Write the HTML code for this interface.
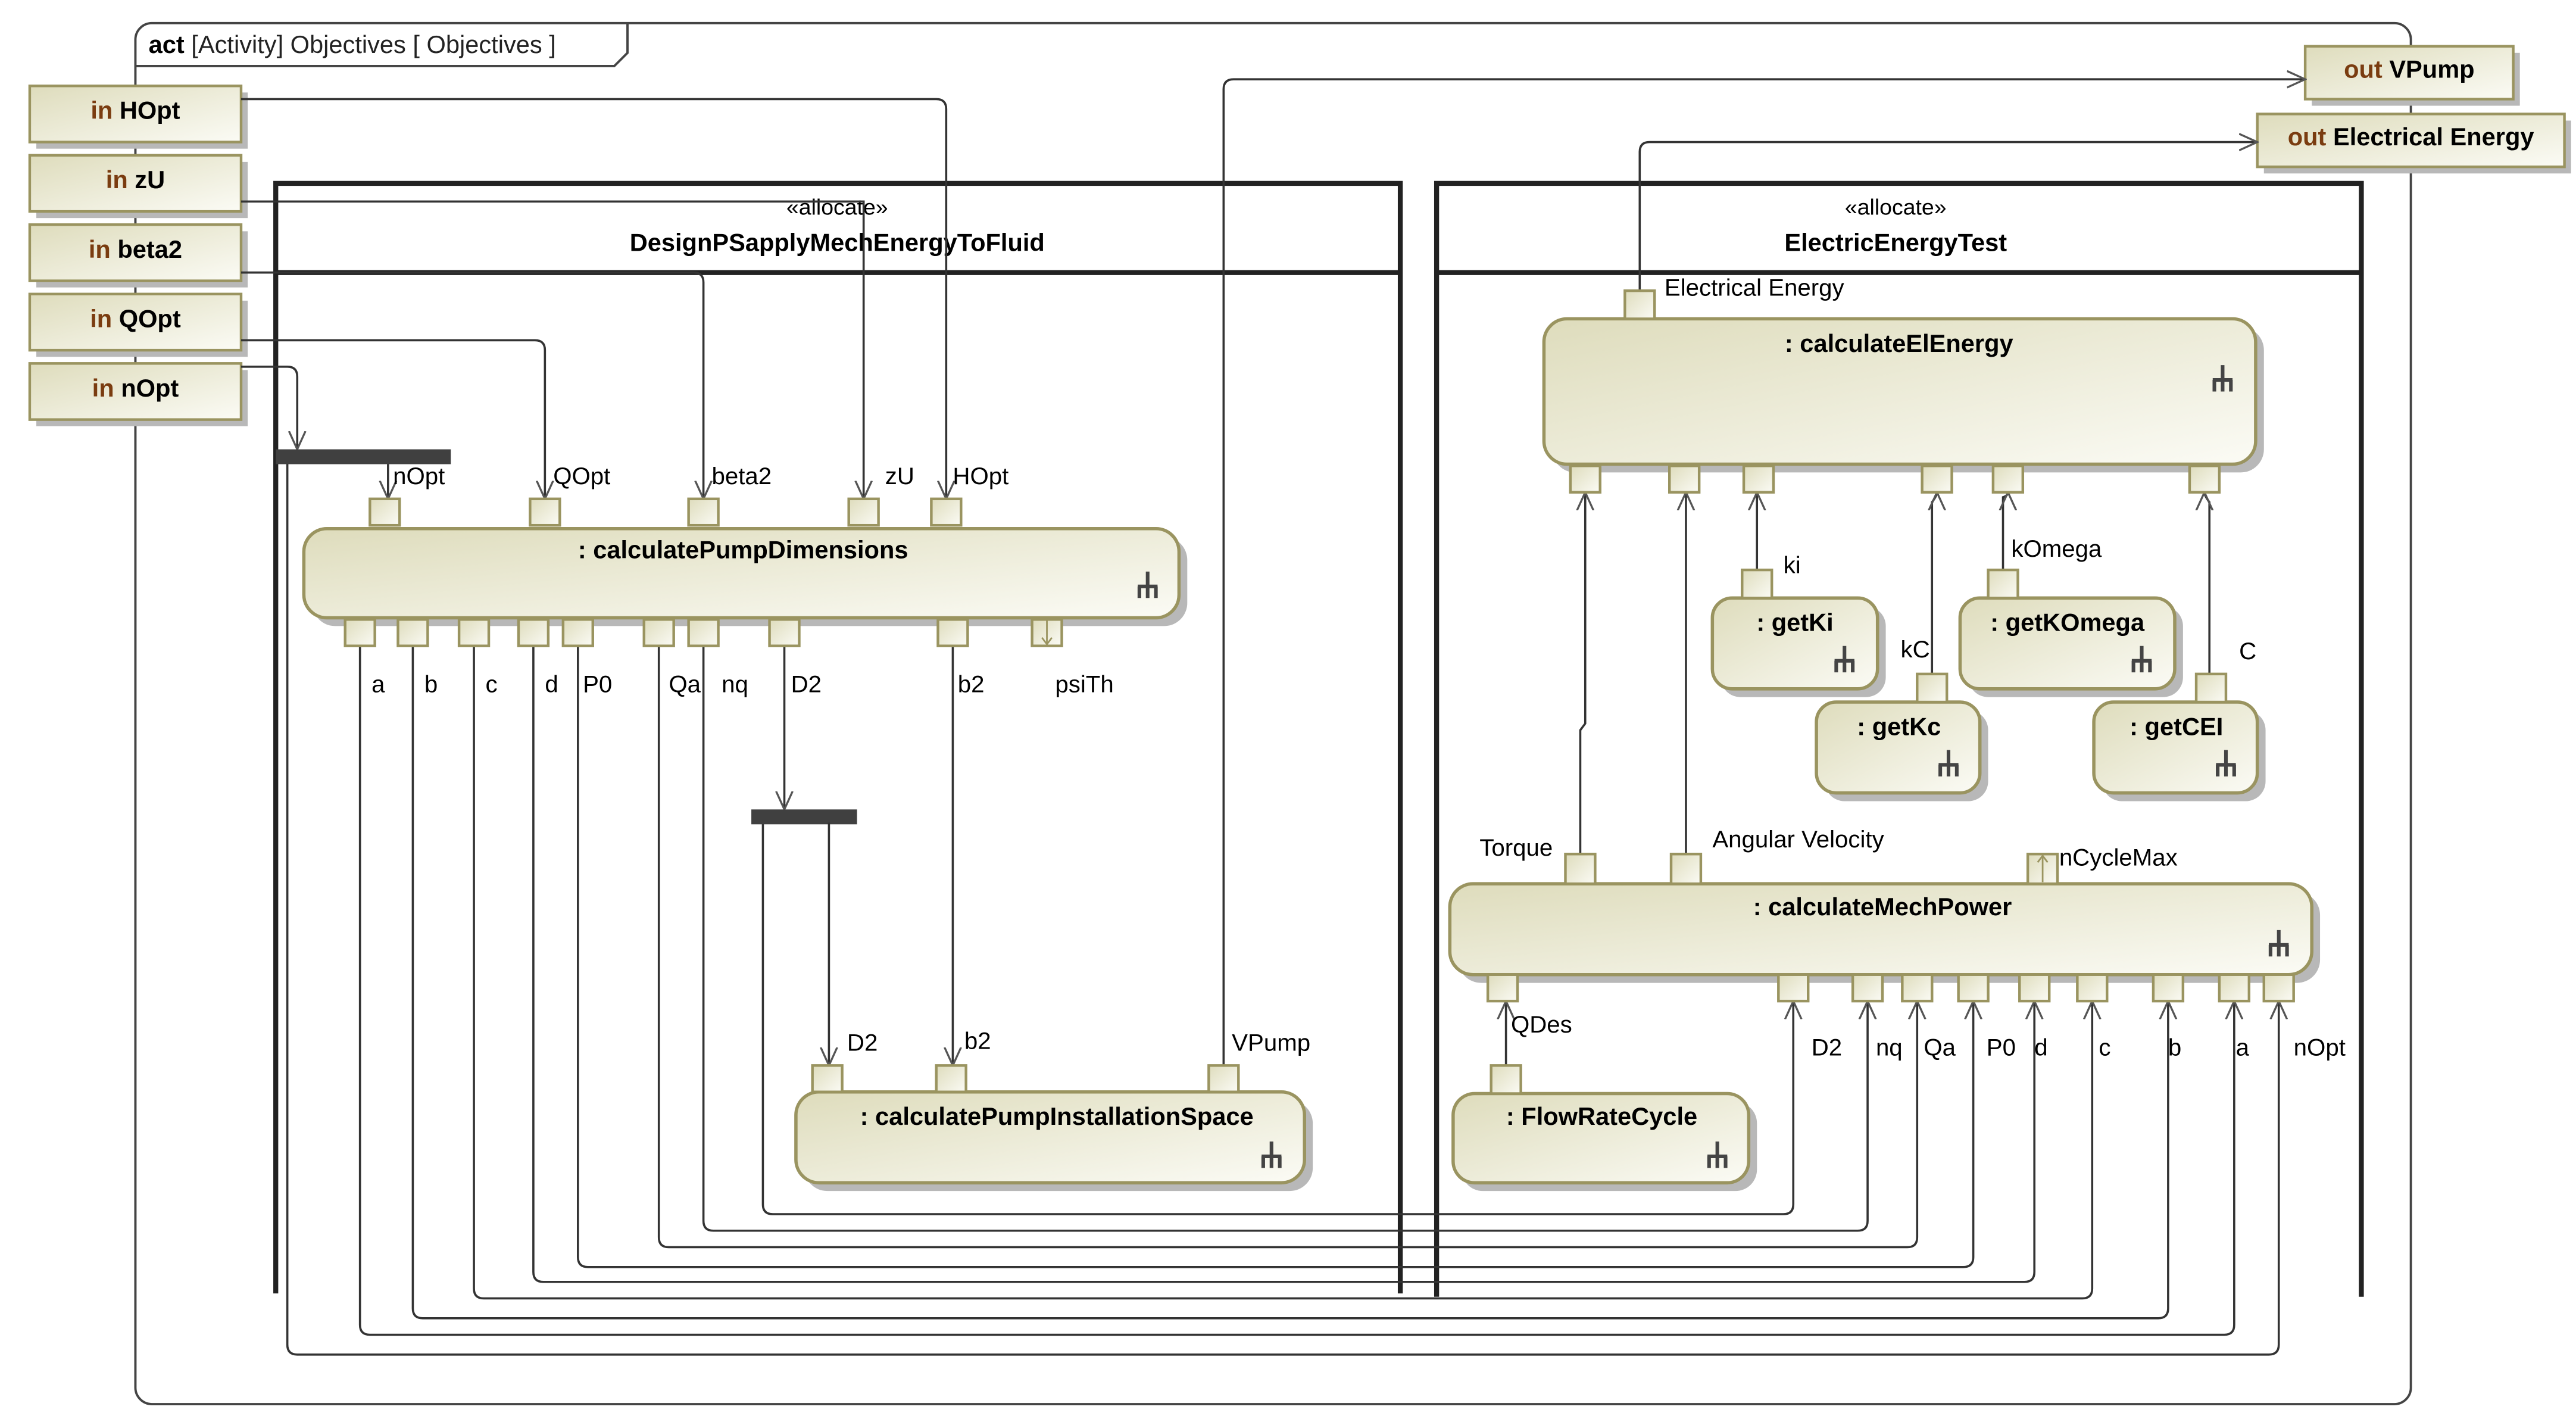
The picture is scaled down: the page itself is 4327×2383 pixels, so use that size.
<!DOCTYPE html>
<html><head><meta charset="utf-8"><style>
html,body{margin:0;padding:0;background:#fff;}
svg{display:block;}
text{font-family:"Liberation Sans",Arial,sans-serif;fill:#000;}
.t{font-weight:bold;font-size:15px;}
.l{font-size:14.5px;}
.ln{fill:none;stroke:#333;stroke-width:1.3;}
.pin{fill:url(#g);stroke:#9a9460;stroke-width:1.6;}
.act{fill:url(#g);stroke:#9a9460;stroke-width:2;}
.sh{fill:#b8b8b8;}
.kw{fill:#7a3c10;}
</style></head><body>
<svg width="4327" height="2383" viewBox="0 0 1560 859" preserveAspectRatio="none" xmlns="http://www.w3.org/2000/svg">
<defs>
<linearGradient id="g" x1="0" y1="0" x2="1" y2="1">
<stop offset="0" stop-color="#dedcbc"/><stop offset="1" stop-color="#fbfbf5"/></linearGradient>
<marker id="a" markerWidth="12" markerHeight="12" refX="11" refY="6" orient="auto" markerUnits="userSpaceOnUse">
<path d="M0,1 L11,6 L0,11" fill="none" stroke="#555" stroke-width="1.2"/></marker>
<g id="rake"><path d="M0,-9 V6 M-6,0 H6 M-5,0 V7 M0,0 V7 M5,0 V7" stroke="#444" stroke-width="2.2" fill="none"/></g>
</defs>

<rect x="82" y="14" width="1378" height="836" rx="10" fill="none" stroke="#444" stroke-width="1.4"/>
<path d="M82,40 H372 L380,32 V14" fill="none" stroke="#444" stroke-width="1.4"/>
<text x="90" y="32" style="font-size:15px"><tspan font-weight="bold">act</tspan> <tspan fill="#222">[Activity] Objectives [ Objectives ]</tspan></text>

<path d="M167,783 V111 H848 V783 M167,165 H848" fill="none" stroke="#222" stroke-width="3"/>
<text x="507" y="130" text-anchor="middle" class="l" style="font-size:13.5px">«allocate»</text>
<text x="507" y="152" text-anchor="middle" class="t">DesignPSapplyMechEnergyToFluid</text>
<path d="M870,785 V111 H1430 V785 M870,165 H1430" fill="none" stroke="#222" stroke-width="3"/>
<text x="1148" y="130" text-anchor="middle" class="l" style="font-size:13.5px">«allocate»</text>
<text x="1148" y="152" text-anchor="middle" class="t">ElectricEnergyTest</text>

<g>
<rect class="sh" x="22" y="56" width="128" height="34"/><rect class="pin" x="18" y="52" width="128" height="34"/>
<text x="82" y="72" text-anchor="middle" class="t"><tspan class="kw">in</tspan> HOpt</text>
<rect class="sh" x="22" y="98" width="128" height="34"/><rect class="pin" x="18" y="94" width="128" height="34"/>
<text x="82" y="114" text-anchor="middle" class="t"><tspan class="kw">in</tspan> zU</text>
<rect class="sh" x="22" y="140" width="128" height="34"/><rect class="pin" x="18" y="136" width="128" height="34"/>
<text x="82" y="156" text-anchor="middle" class="t"><tspan class="kw">in</tspan> beta2</text>
<rect class="sh" x="22" y="182" width="128" height="34"/><rect class="pin" x="18" y="178" width="128" height="34"/>
<text x="82" y="198" text-anchor="middle" class="t"><tspan class="kw">in</tspan> QOpt</text>
<rect class="sh" x="22" y="224" width="128" height="34"/><rect class="pin" x="18" y="220" width="128" height="34"/>
<text x="82" y="240" text-anchor="middle" class="t"><tspan class="kw">in</tspan> nOpt</text>
<rect class="sh" x="1400" y="32" width="126" height="32"/><rect class="pin" x="1396" y="28" width="126" height="32"/>
<text x="1459" y="47" text-anchor="middle" class="t"><tspan class="kw">out</tspan> VPump</text>
<rect class="sh" x="1371" y="73" width="186" height="32"/><rect class="pin" x="1367" y="69" width="186" height="32"/>
<text x="1460" y="88" text-anchor="middle" class="t"><tspan class="kw">out</tspan> Electrical Energy</text>
</g>

<path class="ln" d="M146,60 H567 Q573,60 573,66 V302" marker-end="url(#a)"/>
<path class="ln" d="M146,122 H523 V302" marker-end="url(#a)"/>
<path class="ln" d="M146,165 H420 Q426,165 426,171 V302" marker-end="url(#a)"/>
<path class="ln" d="M146,206 H324 Q330,206 330,212 V302" marker-end="url(#a)"/>
<path class="ln" d="M146,222 H174 Q180,222 180,228 V272" marker-end="url(#a)"/>
<rect x="167" y="272" width="106" height="9" fill="#404040"/>
<path class="ln" d="M235,281 V302" marker-end="url(#a)"/>
<path class="ln" d="M741,645 V54 Q741,48 747,48 H1396" marker-end="url(#a)"/>
<path class="ln" d="M993,176 V92 Q993,86 999,86 H1367" marker-end="url(#a)"/>

<path class="ln" d="M174,281 V814 Q174,820 180,820 H1374 Q1380,820 1380,814 V606" marker-end="url(#a)"/>
<path class="ln" d="M218,390 V802 Q218,808 224,808 H1347 Q1353,808 1353,802 V606" marker-end="url(#a)"/>
<path class="ln" d="M250,390 V792 Q250,798 256,798 H1307 Q1313,798 1313,792 V606" marker-end="url(#a)"/>
<path class="ln" d="M287,390 V780 Q287,786 293,786 H1261 Q1267,786 1267,780 V606" marker-end="url(#a)"/>
<path class="ln" d="M323,390 V770 Q323,776 329,776 H1226 Q1232,776 1232,770 V606" marker-end="url(#a)"/>
<path class="ln" d="M350,390 V761 Q350,767 356,767 H1189 Q1195,767 1195,761 V606" marker-end="url(#a)"/>
<path class="ln" d="M399,390 V749 Q399,755 405,755 H1155 Q1161,755 1161,749 V606" marker-end="url(#a)"/>
<path class="ln" d="M426,390 V739 Q426,745 432,745 H1125 Q1131,745 1131,739 V606" marker-end="url(#a)"/>
<path class="ln" d="M462,498 V729 Q462,735 468,735 H1080 Q1086,735 1086,729 V606" marker-end="url(#a)"/>
<path class="ln" d="M475,390 V490" marker-end="url(#a)"/>
<rect x="455" y="490" width="64" height="9" fill="#404040"/>
<path class="ln" d="M502,498 V645" marker-end="url(#a)"/>
<path class="ln" d="M577,390 V645" marker-end="url(#a)"/>

<path class="ln" d="M957,517 V442 L960,438 V298" marker-end="url(#a)"/>
<path class="ln" d="M1021,517 V298" marker-end="url(#a)"/>
<path class="ln" d="M1064,345 V298" marker-end="url(#a)"/>
<path class="ln" d="M1213,345 V301 Q1216,300 1216,298" marker-end="url(#a)"/>
<path class="ln" d="M1170,408 V304 Q1173,300 1173,298" marker-end="url(#a)"/>
<path class="ln" d="M1338,408 V304 Q1335,300 1335,298" marker-end="url(#a)"/>
<path class="ln" d="M912,645 V606" marker-end="url(#a)"/>

<rect class="sh" x="189" y="325" width="530" height="54" rx="14"/>
<rect class="act" x="184" y="320" width="530" height="54" rx="14"/>
<text x="450" y="338" text-anchor="middle" class="t">: calculatePumpDimensions</text>
<use href="#rake" x="695" y="355"/>
<g class="pin">
<rect x="224" y="302" width="18" height="16"/><rect x="321" y="302" width="18" height="16"/><rect x="417" y="302" width="18" height="16"/><rect x="514" y="302" width="18" height="16"/><rect x="564" y="302" width="18" height="16"/>
<rect x="209" y="375" width="18" height="16"/><rect x="241" y="375" width="18" height="16"/><rect x="278" y="375" width="18" height="16"/><rect x="314" y="375" width="18" height="16"/><rect x="341" y="375" width="18" height="16"/><rect x="390" y="375" width="18" height="16"/><rect x="417" y="375" width="18" height="16"/><rect x="466" y="375" width="18" height="16"/><rect x="568" y="375" width="18" height="16"/><rect x="625" y="375" width="18" height="16"/>
</g>
<path d="M634,375 V390 M631,386 L634,390 L637,386" stroke="#9a9460" fill="none"/>
<g class="l">
<text x="238" y="293">nOpt</text><text x="335" y="293">QOpt</text><text x="431" y="293">beta2</text><text x="536" y="293">zU</text><text x="577" y="293">HOpt</text>
<text x="225" y="419">a</text><text x="257" y="419">b</text><text x="294" y="419">c</text><text x="330" y="419">d</text><text x="353" y="419">P0</text><text x="405" y="419">Qa</text><text x="437" y="419">nq</text><text x="479" y="419">D2</text><text x="580" y="419">b2</text><text x="639" y="419">psiTh</text>
</g>

<rect class="sh" x="487" y="666" width="308" height="55" rx="14"/>
<rect class="act" x="482" y="661" width="308" height="55" rx="14"/>
<text x="640" y="681" text-anchor="middle" class="t">: calculatePumpInstallationSpace</text>
<use href="#rake" x="770" y="700"/>
<g class="pin"><rect x="492" y="645" width="18" height="16"/><rect x="567" y="645" width="18" height="16"/><rect x="732" y="645" width="18" height="16"/></g>
<g class="l"><text x="513" y="636">D2</text><text x="584" y="635">b2</text><text x="746" y="636">VPump</text></g>

<rect class="sh" x="940" y="198" width="431" height="88" rx="14"/>
<rect class="act" x="935" y="193" width="431" height="88" rx="14"/>
<text x="1150" y="213" text-anchor="middle" class="t">: calculateElEnergy</text>
<use href="#rake" x="1346" y="230"/>
<g class="pin"><rect x="984" y="176" width="18" height="17"/>
<rect x="951" y="282" width="18" height="16"/><rect x="1011" y="282" width="18" height="16"/><rect x="1056" y="282" width="18" height="16"/><rect x="1164" y="282" width="18" height="16"/><rect x="1207" y="282" width="18" height="16"/><rect x="1326" y="282" width="18" height="16"/></g>
<text x="1008" y="179" class="l">Electrical Energy</text>

<rect class="sh" x="1042" y="367" width="100" height="55" rx="12"/><rect class="act" x="1037" y="362" width="100" height="55" rx="12"/>
<text x="1087" y="382" text-anchor="middle" class="t">: getKi</text><use href="#rake" x="1117" y="400"/>
<rect class="pin" x="1055" y="345" width="18" height="17"/><text x="1080" y="347" class="l">ki</text>

<rect class="sh" x="1192" y="367" width="130" height="55" rx="12"/><rect class="act" x="1187" y="362" width="130" height="55" rx="12"/>
<text x="1252" y="382" text-anchor="middle" class="t">: getKOmega</text><use href="#rake" x="1297" y="400"/>
<rect class="pin" x="1204" y="345" width="18" height="17"/><text x="1218" y="337" class="l">kOmega</text>

<rect class="sh" x="1105" y="430" width="99" height="55" rx="12"/><rect class="act" x="1100" y="425" width="99" height="55" rx="12"/>
<text x="1150" y="445" text-anchor="middle" class="t">: getKc</text><use href="#rake" x="1180" y="463"/>
<rect class="pin" x="1161" y="408" width="18" height="17"/><text x="1151" y="398" class="l">kC</text>

<rect class="sh" x="1273" y="430" width="99" height="55" rx="12"/><rect class="act" x="1268" y="425" width="99" height="55" rx="12"/>
<text x="1318" y="445" text-anchor="middle" class="t">: getCEI</text><use href="#rake" x="1348" y="463"/>
<rect class="pin" x="1330" y="408" width="18" height="17"/><text x="1356" y="399" class="l">C</text>

<rect class="sh" x="883" y="540" width="522" height="55" rx="14"/>
<rect class="act" x="878" y="535" width="522" height="55" rx="14"/>
<text x="1140" y="554" text-anchor="middle" class="t">: calculateMechPower</text>
<use href="#rake" x="1380" y="572"/>
<g class="pin"><rect x="948" y="517" width="18" height="18"/><rect x="1012" y="517" width="18" height="18"/><rect x="1228" y="517" width="18" height="18"/>
<rect x="901" y="590" width="18" height="16"/><rect x="1077" y="590" width="18" height="16"/><rect x="1122" y="590" width="18" height="16"/><rect x="1152" y="590" width="18" height="16"/><rect x="1186" y="590" width="18" height="16"/><rect x="1223" y="590" width="18" height="16"/><rect x="1258" y="590" width="18" height="16"/><rect x="1304" y="590" width="18" height="16"/><rect x="1344" y="590" width="18" height="16"/><rect x="1371" y="590" width="18" height="16"/></g>
<path d="M1237,534 V518 M1234,522 L1237,518 L1240,522" stroke="#9a9460" fill="none"/>
<g class="l"><text x="896" y="518">Torque</text><text x="1037" y="513">Angular Velocity</text><text x="1247" y="524">nCycleMax</text>
<text x="915" y="625">QDes</text><text x="1097" y="639">D2</text><text x="1136" y="639">nq</text><text x="1165" y="639">Qa</text><text x="1203" y="639">P0</text><text x="1232" y="639">d</text><text x="1271" y="639">c</text><text x="1313" y="639">b</text><text x="1354" y="639">a</text><text x="1389" y="639">nOpt</text></g>

<rect class="sh" x="885" y="667" width="179" height="54" rx="13"/><rect class="act" x="880" y="662" width="179" height="54" rx="13"/>
<text x="970" y="681" text-anchor="middle" class="t">: FlowRateCycle</text><use href="#rake" x="1040" y="700"/>
<rect class="pin" x="903" y="645" width="18" height="17"/>
</svg>
</body></html>
